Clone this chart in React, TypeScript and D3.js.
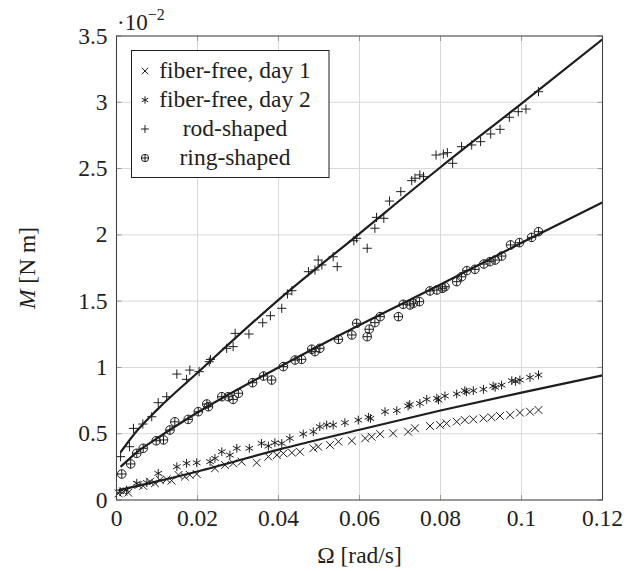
import React from "react";
import * as d3 from "d3";

// Data: Ω [rad/s], M [×1e-2 N m]
const fiberDay1: [number, number][] = [
  [0.0005, 0.05], [0.0017, 0.063], [0.0029, 0.055], [0.0054, 0.113], [0.0066, 0.106], [0.0083, 0.138],
  [0.0095, 0.126], [0.0107, 0.151], [0.0124, 0.156], [0.0136, 0.146], [0.0153, 0.189], [0.0169, 0.176],
  [0.0181, 0.189], [0.0198, 0.196], [0.0243, 0.239], [0.0268, 0.264], [0.0288, 0.277], [0.0309, 0.289],
  [0.0346, 0.281], [0.0375, 0.327], [0.0396, 0.339], [0.0412, 0.352], [0.0433, 0.357], [0.0453, 0.364],
  [0.0486, 0.39], [0.0498, 0.402], [0.0527, 0.415], [0.0548, 0.44], [0.0581, 0.447], [0.0614, 0.465],
  [0.063, 0.477], [0.0651, 0.498], [0.0683, 0.503], [0.072, 0.515], [0.0737, 0.541], [0.0774, 0.558],
  [0.0799, 0.566], [0.0815, 0.578], [0.084, 0.591], [0.086, 0.603], [0.0881, 0.608], [0.0906, 0.616],
  [0.0926, 0.624], [0.0947, 0.634], [0.0972, 0.641], [0.0996, 0.659], [0.1021, 0.666], [0.1042, 0.679],
];

const fiberDay2: [number, number][] = [
  [0.0009, 0.063], [0.0025, 0.075], [0.005, 0.126], [0.0075, 0.131], [0.0103, 0.201], [0.0149, 0.251],
  [0.0173, 0.277], [0.0198, 0.281], [0.0231, 0.289], [0.0243, 0.314], [0.026, 0.364], [0.028, 0.339],
  [0.0297, 0.39], [0.0328, 0.39], [0.0358, 0.427], [0.0375, 0.407], [0.0391, 0.432], [0.0408, 0.427],
  [0.0428, 0.465], [0.0461, 0.498], [0.0486, 0.515], [0.0502, 0.553], [0.0519, 0.566], [0.0535, 0.566],
  [0.0564, 0.583], [0.0597, 0.603], [0.0622, 0.624], [0.0627, 0.615], [0.0663, 0.666], [0.0692, 0.674],
  [0.072, 0.709], [0.0724, 0.72], [0.0749, 0.729], [0.0766, 0.759], [0.0791, 0.767], [0.0795, 0.755],
  [0.0811, 0.785], [0.084, 0.8], [0.086, 0.825], [0.0864, 0.815], [0.0881, 0.825], [0.0906, 0.835],
  [0.093, 0.86], [0.0935, 0.85], [0.0951, 0.867], [0.0976, 0.9], [0.0985, 0.895], [0.0996, 0.905],
  [0.1021, 0.925], [0.1042, 0.943],
];

const rodShaped: [number, number][] = [
  [0.001, 0.327], [0.0032, 0.402], [0.0042, 0.54], [0.0065, 0.573], [0.0087, 0.628], [0.0103, 0.734],
  [0.0124, 0.779], [0.0149, 0.95], [0.0173, 0.91], [0.0181, 0.98], [0.0204, 0.968], [0.0229, 1.043],
  [0.0232, 1.06], [0.0272, 1.144], [0.0288, 1.157], [0.0293, 1.257], [0.0327, 1.252], [0.0361, 1.337],
  [0.038, 1.39], [0.0408, 1.446], [0.0422, 1.554], [0.0433, 1.579], [0.0474, 1.722], [0.049, 1.735],
  [0.0498, 1.81], [0.0507, 1.773], [0.0535, 1.835], [0.0545, 1.76], [0.0586, 1.956], [0.0593, 1.974],
  [0.0619, 1.899], [0.0638, 2.05], [0.0642, 2.132], [0.066, 2.125], [0.0674, 2.255], [0.0702, 2.326],
  [0.0729, 2.409], [0.0737, 2.427], [0.0749, 2.452], [0.0758, 2.439], [0.0789, 2.602], [0.0807, 2.61],
  [0.0817, 2.62], [0.083, 2.54], [0.0852, 2.665], [0.0877, 2.678], [0.0899, 2.703], [0.0924, 2.761],
  [0.0947, 2.796], [0.097, 2.887], [0.0992, 2.929], [0.1011, 2.949], [0.1042, 3.08],
];

const ringShaped: [number, number][] = [
  [0.0013, 0.196], [0.0035, 0.272], [0.005, 0.352], [0.0066, 0.39], [0.0098, 0.447], [0.0116, 0.453],
  [0.0132, 0.528], [0.0144, 0.59], [0.0177, 0.608], [0.0202, 0.666], [0.0223, 0.724], [0.0227, 0.704],
  [0.026, 0.779], [0.0276, 0.779], [0.0288, 0.759], [0.0301, 0.805], [0.0336, 0.885], [0.0363, 0.935],
  [0.0383, 0.905], [0.0412, 1.006], [0.0441, 1.056], [0.0457, 1.061], [0.0482, 1.137], [0.049, 1.119],
  [0.0502, 1.144], [0.0548, 1.212], [0.0581, 1.245], [0.0593, 1.333], [0.0619, 1.232], [0.0624, 1.288],
  [0.0638, 1.338], [0.0651, 1.383], [0.0696, 1.383], [0.0708, 1.476], [0.0725, 1.471], [0.0733, 1.484],
  [0.0748, 1.496], [0.0774, 1.577], [0.0791, 1.584], [0.0805, 1.597], [0.0811, 1.609], [0.084, 1.647],
  [0.0852, 1.684], [0.0865, 1.73], [0.0885, 1.74], [0.0907, 1.78], [0.0922, 1.798], [0.0935, 1.81],
  [0.0951, 1.84], [0.0973, 1.924], [0.0995, 1.941], [0.1025, 1.981], [0.1042, 2.024],
];

// Fit curves
const rodFit: [number, number][] = [
  [0.001, 0.36], [0.005, 0.52], [0.01, 0.68], [0.02, 0.96], [0.04, 1.51], [0.06, 2.01], [0.08, 2.51], [0.1, 2.99], [0.12, 3.475],
];
const ringFit: [number, number][] = [
  [0.001, 0.25], [0.005, 0.36], [0.01, 0.465], [0.02, 0.66], [0.04, 1.0], [0.06, 1.32], [0.08, 1.625], [0.1, 1.94], [0.12, 2.245],
];
const fiberFit: [number, number][] = [
  [0.0005, 0.075], [0.005, 0.105], [0.01, 0.14], [0.02, 0.215], [0.04, 0.38], [0.06, 0.53], [0.08, 0.675], [0.1, 0.81], [0.12, 0.94],
];

const xTicks = [0, 0.02, 0.04, 0.06, 0.08, 0.1, 0.12];
const xTickLabels = ["0", "0.02", "0.04", "0.06", "0.08", "0.1", "0.12"];
const yTicks = [0, 0.5, 1, 1.5, 2, 2.5, 3, 3.5];
const yTickLabels = ["0", "0.5", "1", "1.5", "2", "2.5", "3", "3.5"];
const legendLabels = ["fiber-free, day 1", "fiber-free, day 2", "rod-shaped", "ring-shaped"];

const W = 636, H = 571;
const L = 116.5, R = 602.5, T = 36, B = 500;
const FONT = "Liberation Serif";
const INK = "#1e1e1e";

const x = d3.scaleLinear().domain([0, 0.12]).range([L, R]);
const y = d3.scaleLinear().domain([0, 3.5]).range([B, T]);

type MarkerKind = "x" | "star" | "plus" | "oplus";

function Marker({ kind, cx, cy, scale = 1 }: { kind: MarkerKind; cx: number; cy: number; scale?: number }) {
  const sw = 1;
  if (kind === "x") {
    const s = 3.9 * scale;
    return (
      <path d={`M${cx - s},${cy - s}L${cx + s},${cy + s}M${cx - s},${cy + s}L${cx + s},${cy - s}`} stroke={INK} strokeWidth={sw} fill="none" />
    );
  }
  if (kind === "star") {
    const r = 4.4 * scale;
    const parts: string[] = [];
    for (const a of [90, 30, 150]) {
      const rad = (a * Math.PI) / 180;
      const dx = r * Math.cos(rad), dy = r * Math.sin(rad);
      parts.push(`M${cx - dx},${cy - dy}L${cx + dx},${cy + dy}`);
    }
    return <path d={parts.join("")} stroke={INK} strokeWidth={sw} fill="none" />;
  }
  if (kind === "plus") {
    const s = 4.6 * scale;
    return <path d={`M${cx - s},${cy}L${cx + s},${cy}M${cx},${cy - s}L${cx},${cy + s}`} stroke={INK} strokeWidth={sw} fill="none" />;
  }
  const r = 4.3 * scale;
  return (
    <g stroke={INK} strokeWidth={sw} fill="none">
      <circle cx={cx} cy={cy} r={r} />
      <path d={`M${cx - r},${cy}L${cx + r},${cy}M${cx},${cy - r}L${cx},${cy + r}`} />
    </g>
  );
}

export default function App() {
  const line = d3
    .line<[number, number]>()
    .x((d) => x(d[0]))
    .y((d) => y(d[1]))
    .curve(d3.curveMonotoneX);

  const series: { data: [number, number][]; kind: MarkerKind }[] = [
    { data: fiberDay1, kind: "x" },
    { data: fiberDay2, kind: "star" },
    { data: rodShaped, kind: "plus" },
    { data: ringShaped, kind: "oplus" },
  ];
  const legendKinds: MarkerKind[] = ["x", "star", "plus", "oplus"];
  const tickLen = 5;

  return (
    <svg width={W} height={H} style={{ position: "absolute", left: 0, top: 0, background: "#fff", fontFamily: FONT }}>
      <rect x={0} y={0} width={W} height={H} fill="#fff" />
      <defs>
        <clipPath id="plotclip">
          <rect x={L} y={T} width={R - L} height={B - T} />
        </clipPath>
      </defs>
      {/* grid */}
      <g stroke="#d9d9d9" strokeWidth={1}>
        {xTicks.slice(1, -1).map((t) => (
          <line key={"gx" + t} x1={x(t)} x2={x(t)} y1={T} y2={B} />
        ))}
        {yTicks.slice(1, -1).map((t) => (
          <line key={"gy" + t} x1={L} x2={R} y1={y(t)} y2={y(t)} />
        ))}
      </g>
      {/* ticks */}
      <g stroke="#9a9a9a" strokeWidth={1}>
        {xTicks.map((t) => (
          <g key={"tx" + t}>
            <line x1={x(t)} x2={x(t)} y1={B} y2={B - tickLen} />
            <line x1={x(t)} x2={x(t)} y1={T} y2={T + tickLen} />
          </g>
        ))}
        {yTicks.map((t) => (
          <g key={"ty" + t}>
            <line x1={L} x2={L + tickLen} y1={y(t)} y2={y(t)} />
            <line x1={R} x2={R - tickLen} y1={y(t)} y2={y(t)} />
          </g>
        ))}
      </g>
      {/* fit lines */}
      <g clipPath="url(#plotclip)" fill="none" stroke={INK} strokeWidth={2.2}>
        <path d={line(rodFit) || ""} />
        <path d={line(ringFit) || ""} />
        <path d={line(fiberFit) || ""} />
      </g>
      {/* markers */}
      {series.map((s, i) => (
        <g key={"s" + i}>
          {s.data.map((d, j) => (
            <Marker key={j} kind={s.kind} cx={x(d[0])} cy={y(d[1])} />
          ))}
        </g>
      ))}
      {/* frame */}
      <rect x={L} y={T} width={R - L} height={B - T} fill="none" stroke="#444" strokeWidth={1.1} />
      {/* tick labels */}
      <g fontSize={23.5} fill={INK}>
        {xTicks.map((t, i) => (
          <text key={"lx" + t} x={x(t)} y={B + 26} textAnchor="middle">
            {xTickLabels[i]}
          </text>
        ))}
        {yTicks.map((t, i) => (
          <text key={"ly" + t} x={L - 9} y={y(t) + 7.5} textAnchor="end">
            {yTickLabels[i]}
          </text>
        ))}
      </g>
      {/* exponent */}
      <text x={117} y={30} fontSize={23} fill={INK}>
        ·10
        <tspan fontSize={16} dy={-10}>−2</tspan>
      </text>
      {/* axis labels */}
      <text x={(L + R) / 2} y={563} fontSize={23.5} textAnchor="middle" fill={INK}>
        Ω [rad/s]
      </text>
      <text transform={`translate(35, ${(T + B) / 2}) rotate(-90)`} fontSize={23.5} textAnchor="middle" fill={INK}>
        <tspan fontStyle="italic">M</tspan> [N m]
      </text>
      {/* legend */}
      <rect x={131.5} y={50.5} width={197.5} height={127} fill="#fff" stroke={INK} strokeWidth={1} />
      {legendLabels.map((lab, i) => {
        const cy = 71 + i * 29;
        return (
          <g key={"lg" + i}>
            <Marker kind={legendKinds[i]} cx={145} cy={cy} scale={0.85} />
            <text x={235} y={cy + 6.5} fontSize={23.5} textAnchor="middle" fill={INK}>
              {lab}
            </text>
          </g>
        );
      })}
    </svg>
  );
}
